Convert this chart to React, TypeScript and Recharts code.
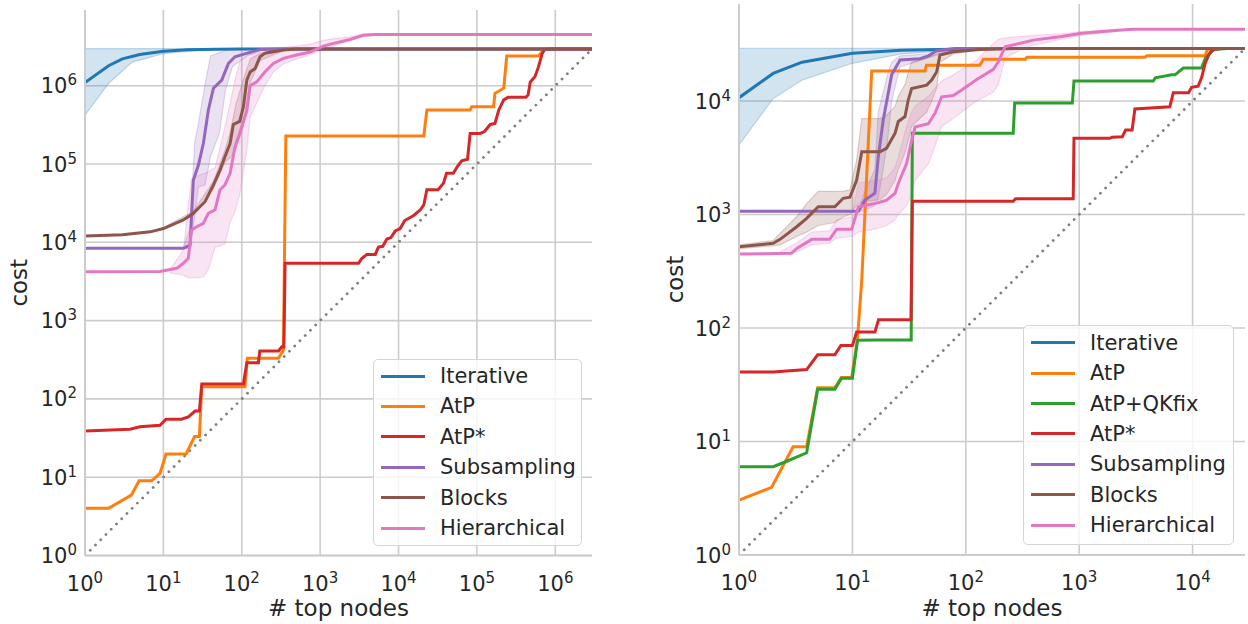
import React from 'react';
import { ComposedChart, Line, Area, XAxis, YAxis, CartesianGrid } from 'recharts';

type Pt = [number, number];
type Band = [number, number, number];

// ---- left panel ----
const L_ITERATIVE: Pt[] = [[1, 1.1e6], [2, 1.8e6], [3, 2.2e6], [5, 2.5e6], [10, 2.75e6], [20, 2.87e6], [50, 2.93e6], [100, 2.94e6], [2.94e6, 2.94e6]];
const L_ITERATIVE_BAND: Band[] = [[1, 4.2e5, 2.98e6], [2, 1.07e6, 2.98e6], [4, 2.0e6, 2.98e6], [10, 2.57e6, 2.98e6], [30, 2.85e6, 2.97e6], [100, 2.93e6, 2.95e6]];
const L_ATP: Pt[] = [[1, 4], [2, 4], [3.9, 5.9], [4.9, 9], [7.1, 9], [9.06, 11.2], [10.8, 19.8], [19.5, 19.8], [25, 33], [28.8, 33], [30.9, 143], [110, 143], [118, 330], [294, 330], [340, 420], [365, 2.28e5], [2.1e4, 2.28e5], [2.3e4, 4.9e5], [8.2e4, 4.9e5], [8.6e4, 5.4e5], [1.63e5, 5.4e5], [1.7e5, 8e5], [2.2e5, 9.3e5], [2.4e5, 2.4e6], [6.1e5, 2.4e6], [7.1e5, 2.86e6], [8e5, 2.94e6], [2.94e6, 2.94e6]];
const L_ATP_STAR: Pt[] = [[1, 39], [3.76, 41], [5, 44], [9.06, 46], [10.8, 55], [17, 55], [20.8, 59], [25.4, 70], [28.8, 70], [30.9, 155], [105, 155], [116, 290], [163, 290], [170, 410], [294, 410], [324, 464], [345, 464], [357, 5.4e3], [3090, 5.4e3], [3390, 6.2e3], [3950, 7e3], [5050, 7e3], [5540, 8.7e3], [6300, 8.9e3], [7100, 1.1e4], [8000, 1.15e4], [9100, 1.4e4], [1.05e4, 1.5e4], [1.2e4, 1.9e4], [1.56e4, 2.2e4], [1.9e4, 2.6e4], [2.1e4, 3e4], [2.3e4, 4.7e4], [3.2e4, 4.7e4], [3.75e4, 5.7e4], [4.1e4, 7.6e4], [5e4, 7.6e4], [5.6e4, 9.2e4], [6.4e4, 1.1e5], [7.6e4, 1.15e5], [8.2e4, 2.46e5], [1.1e5, 2.46e5], [1.25e5, 2.6e5], [1.48e5, 3.2e5], [1.7e5, 3.3e5], [1.9e5, 4.9e5], [2.2e5, 6.6e5], [2.5e5, 7.1e5], [4.2e5, 7.1e5], [4.5e5, 7.6e5], [4.8e5, 1.12e6], [5.5e5, 1.3e6], [6.1e5, 1.74e6], [6.8e5, 2.57e6], [7.3e5, 2.9e6], [8e5, 2.94e6], [2.94e6, 2.94e6]];
const L_SUBSAMPLING: Pt[] = [[1, 8.4e3], [18, 8.4e3], [21.9, 9.2e3], [24.1, 6.2e4], [28, 9.7e4], [32.4, 1.84e5], [37.5, 4.9e5], [43.5, 9.3e5], [55.6, 1.18e6], [67.6, 1.93e6], [82, 2.34e6], [115, 2.59e6], [171, 2.9e6], [300, 2.94e6], [2.94e6, 2.94e6]];
const L_SUBSAMPLING_BAND: Band[] = [[18, 8.3e3, 8.6e3], [21.9, 8.4e3, 1.5e4], [25, 2.1e4, 1.84e5], [28, 5.1e4, 3.3e5], [34, 5.4e4, 1.05e6], [40, 1.25e5, 2.4e6], [52, 2.5e5, 2.65e6], [62, 8.8e5, 2.8e6], [76, 1.74e6, 2.9e6], [115, 2.4e6, 2.94e6], [200, 2.88e6, 2.95e6]];
const L_BLOCKS: Pt[] = [[1, 1.2e4], [3, 1.25e4], [6.8, 1.36e4], [10, 1.5e4], [18, 1.93e4], [24.1, 2.35e4], [34, 3.3e4], [43.5, 5.4e4], [52.6, 8.3e4], [61, 1.24e5], [71, 1.83e5], [78, 3.2e5], [94, 3.5e5], [105, 5.4e5], [116, 1.18e6], [128, 1.5e6], [148, 1.66e6], [171, 2.34e6], [197, 2.6e6], [340, 2.85e6], [500, 2.94e6], [2.94e6, 2.94e6]];
const L_BLOCKS_BAND: Band[] = [[10, 1.45e4, 1.55e4], [24.1, 2.2e4, 2.5e4], [43.5, 4.8e4, 6e4], [61, 1.05e5, 1.5e5], [71, 1.2e5, 2.5e5], [85, 1.6e5, 6e5], [105, 3e5, 1.2e6], [128, 1.1e6, 2.2e6], [171, 2.1e6, 2.6e6], [340, 2.8e6, 2.9e6]];
const L_HIERARCHICAL: Pt[] = [[1, 4.2e3], [9, 4.25e3], [14.8, 4.65e3], [18, 5.4e3], [20.8, 6.25e3], [22.9, 1.44e4], [26.6, 1.58e4], [32.4, 1.75e4], [37.5, 2.35e4], [45.7, 2.6e4], [52.6, 4.65e4], [61, 5.4e4], [71, 7.6e4], [82, 1.66e5], [94, 2.46e5], [116, 4.8e5], [128, 1e6], [155, 1.12e6], [197, 1.5e6], [253, 1.93e6], [340, 2.24e6], [500, 2.47e6], [750, 2.7e6], [1100, 3.2e6], [1480, 3.47e6], [2400, 3.9e6], [3560, 4.4e6], [5000, 4.5e6], [2.94e6, 4.5e6]];
const L_HIERARCHICAL_BAND: Band[] = [[12, 4.1e3, 4.4e3], [18, 3.8e3, 8e3], [20.8, 3.5e3, 3e4], [22.9, 3.5e3, 6.5e4], [26.6, 3.5e3, 7e4], [32.4, 3.6e3, 7.5e4], [37.5, 4.5e3, 8e4], [45.7, 8.7e3, 9e4], [52.6, 9e3, 1.6e5], [61, 9.5e3, 3e5], [71, 1.8e4, 6e5], [82, 2.5e4, 1.2e6], [94, 4e4, 2e6], [116, 1.5e5, 2.4e6], [128, 4e5, 2.5e6], [155, 6e5, 2.6e6], [197, 1e6, 2.7e6], [253, 1.5e6, 2.8e6], [340, 1.9e6, 3.1e6], [500, 2.2e6, 3.2e6], [750, 2.5e6, 3.4e6], [1100, 2.9e6, 3.8e6], [1480, 3.2e6, 4e6], [2400, 3.8e6, 4.2e6], [3560, 4.3e6, 4.6e6], [5000, 4.4e6, 4.6e6]];
const L_DIAGONAL: Pt[] = [[1, 1], [2.94e6, 2.94e6]];

// ---- right panel ----
const R_ITERATIVE: Pt[] = [[1, 1.07e4], [2, 1.75e4], [3.6, 2.2e4], [10, 2.63e4], [27, 2.8e4], [100, 2.87e4], [300, 2.9e4], [2.9e4, 2.9e4]];
const R_ITERATIVE_BAND: Band[] = [[1, 4.1e3, 2.91e4], [2, 1.05e4, 2.91e4], [3.6, 1.53e4, 2.91e4], [10, 2.15e4, 2.91e4], [27, 2.6e4, 2.91e4], [100, 2.85e4, 2.9e4]];
const R_ATP: Pt[] = [[1, 3.05], [1.94, 3.95], [3.0, 9], [3.95, 9], [4.94, 29.8], [7, 29.8], [8, 36.7], [9.86, 36.7], [11.1, 81], [12.1, 265], [14.8, 1.84e4], [43.7, 1.84e4], [45, 2.07e4], [133, 2.07e4], [143, 2.33e4], [334, 2.33e4], [347, 2.43e4], [3800, 2.43e4], [3950, 2.5e4], [1.29e4, 2.5e4], [1.35e4, 2.85e4], [1.5e4, 2.9e4], [2.9e4, 2.9e4]];
const R_ATP_QKFIX: Pt[] = [[1, 6], [2, 6], [2.55, 6.6], [3.95, 7.95], [4.94, 28.8], [7, 28.8], [8, 36], [10, 36], [11.1, 78], [16, 78.5], [33, 78.5], [33.8, 5.2e3], [262, 5.2e3], [270, 9.6e3], [870, 9.6e3], [900, 1.5e4], [4500, 1.5e4], [4700, 1.6e4], [6540, 1.7e4], [7000, 1.7e4], [8280, 1.95e4], [1.2e4, 1.95e4], [1.3e4, 2.4e4], [1.55e4, 2.85e4], [2e4, 2.9e4], [2.9e4, 2.9e4]];
const R_ATP_STAR: Pt[] = [[1, 41], [2, 41], [3.95, 43], [4.94, 58], [7, 58], [7.9, 70], [10, 70], [10.9, 92], [15.8, 92], [17, 118], [32.9, 118], [33.8, 1.31e3], [262, 1.31e3], [275, 1.38e3], [886, 1.38e3], [900, 4.7e3], [1870, 4.7e3], [1950, 4.8e3], [2400, 4.85e3], [2570, 5.55e3], [2930, 5.55e3], [3100, 8.5e3], [6300, 8.9e3], [6760, 1.18e4], [9200, 1.18e4], [9800, 1.32e4], [1.12e4, 1.35e4], [1.2e4, 1.6e4], [1.29e4, 2.14e4], [1.4e4, 2.6e4], [1.5e4, 2.85e4], [1.8e4, 2.9e4], [2.9e4, 2.9e4]];
const R_SUBSAMPLING: Pt[] = [[1, 1.07e3], [11.3, 1.07e3], [12.9, 1.34e3], [15.8, 1.54e3], [16.9, 3.2e3], [18.7, 6.8e3], [20.7, 1.17e4], [22.2, 1.7e4], [26.3, 2.3e4], [39.4, 2.36e4], [46.8, 2.5e4], [55.4, 2.77e4], [80, 2.9e4], [2.9e4, 2.9e4]];
const R_SUBSAMPLING_BAND: Band[] = [[11.3, 1.05e3, 1.1e3], [12.9, 1.1e3, 1.6e3], [15.8, 1.2e3, 2.5e3], [16.9, 1.4e3, 8e3], [18.7, 2.5e3, 1.2e4], [20.7, 5e3, 1.8e4], [22.2, 1e4, 2.2e4], [26.3, 2e4, 2.5e4], [46.8, 2.4e4, 2.6e4], [80, 2.88e4, 2.92e4]];
const R_BLOCKS: Pt[] = [[1, 520], [2, 557], [2.3, 604], [3.23, 781], [3.95, 925], [5, 1.17e3], [7, 1.17e3], [8.3, 1.39e3], [9.5, 1.42e3], [10.9, 2e3], [12.1, 3.57e3], [17.5, 3.57e3], [20, 3.83e3], [23.8, 5.2e3], [25.4, 6.6e3], [29.1, 7.3e3], [31.1, 1.02e4], [33.3, 1.29e4], [45.2, 1.38e4], [50, 1.53e4], [55.4, 1.81e4], [59.2, 2.54e4], [77.6, 2.72e4], [133, 2.85e4], [260, 2.9e4], [2.9e4, 2.9e4]];
const R_BLOCKS_BAND: Band[] = [[1, 500, 540], [2, 530, 590], [2.3, 540, 680], [3.23, 640, 960], [3.95, 700, 1250], [5, 800, 1600], [7, 850, 1600], [8.3, 950, 1600], [9.5, 1000, 1650], [10.9, 1200, 3e3], [12.1, 1300, 7e3], [17.5, 1350, 7e3], [20, 1500, 7.5e3], [23.8, 2e3, 9e3], [25.4, 2.5e3, 1.1e4], [29.1, 3.5e3, 1.4e4], [31.1, 4.5e3, 1.8e4], [33.3, 6e3, 2.2e4], [45.2, 8e3, 2.4e4], [50, 1e4, 2.5e4], [55.4, 1.3e4, 2.6e4], [59.2, 2.2e4, 2.75e4], [77.6, 2.6e4, 2.8e4], [133, 2.83e4, 2.88e4]];
const R_HIERARCHICAL: Pt[] = [[1, 449], [2.9, 455], [3.23, 503], [4.38, 604], [6.3, 604], [7.26, 740], [9.86, 740], [11.3, 1.17e3], [16.4, 1.26e3], [20, 1.34e3], [23.8, 1.54e3], [25.4, 1.88e3], [30.1, 2.83e3], [33.3, 4.5e3], [35.7, 5.9e3], [46.8, 6.3e3], [53.5, 7.8e3], [61.3, 1.09e4], [77.6, 1.12e4], [92, 1.25e4], [125, 1.55e4], [175, 1.9e4], [194, 2.22e4], [222, 3e4], [300, 3.22e4], [394, 3.44e4], [700, 3.7e4], [1050, 3.95e4], [2210, 4.2e4], [3000, 4.3e4], [2.9e4, 4.3e4]];
const R_HIERARCHICAL_BAND: Band[] = [[2.3, 440, 470], [3.23, 470, 560], [4.38, 540, 700], [6.3, 560, 720], [7.26, 620, 900], [9.86, 640, 950], [11.3, 700, 1900], [16.4, 750, 2000], [20, 800, 2100], [23.8, 900, 2600], [25.4, 1000, 3200], [30.1, 1200, 6e3], [33.3, 1500, 8e3], [35.7, 2000, 9e3], [46.8, 2800, 1.1e4], [53.5, 4e3, 1.3e4], [61.3, 6e3, 1.5e4], [77.6, 7e3, 1.7e4], [92, 8e3, 1.9e4], [125, 1e4, 2.3e4], [175, 1.2e4, 3.2e4], [194, 1.4e4, 3.5e4], [222, 2.4e4, 3.6e4], [300, 2.8e4, 3.7e4], [394, 3.1e4, 3.8e4], [700, 3.5e4, 3.9e4], [1050, 3.8e4, 4.1e4], [2210, 4.1e4, 4.3e4]];
const R_DIAGONAL: Pt[] = [[1, 1], [2.9e4, 2.9e4]];

const L_TICKS = [1, 10, 100, 1e3, 1e4, 1e5, 1e6];
const R_TICKS = [1, 10, 100, 1e3, 1e4];

const C = {
  blue: '#1f77b4',
  orange: '#ff7f0e',
  green: '#2ca02c',
  red: '#d62728',
  purple: '#9467bd',
  brown: '#8c564b',
  pink: '#e377c2',
};
const TEXT = '#262626';
const GRID = '#cccccc';
const FONT = '"DejaVu Sans", sans-serif';

const toLine = (pts: Pt[]) => pts.map(([x, y]) => ({ x, y }));
const toBand = (pts: Band[]) => pts.map(([x, lo, hi]) => ({ x, r: [lo, hi] }));

interface Series {
  name: string;
  color: string;
  line: Pt[];
  band?: Band[];
}

const leftSeries: Series[] = [
  { name: 'Iterative', color: C.blue, line: L_ITERATIVE, band: L_ITERATIVE_BAND },
  { name: 'AtP', color: C.orange, line: L_ATP },
  { name: 'AtP*', color: C.red, line: L_ATP_STAR },
  { name: 'Subsampling', color: C.purple, line: L_SUBSAMPLING, band: L_SUBSAMPLING_BAND },
  { name: 'Blocks', color: C.brown, line: L_BLOCKS, band: L_BLOCKS_BAND },
  { name: 'Hierarchical', color: C.pink, line: L_HIERARCHICAL, band: L_HIERARCHICAL_BAND },
];

const rightSeries: Series[] = [
  { name: 'Iterative', color: C.blue, line: R_ITERATIVE, band: R_ITERATIVE_BAND },
  { name: 'AtP', color: C.orange, line: R_ATP },
  { name: 'AtP+QKfix', color: C.green, line: R_ATP_QKFIX },
  { name: 'AtP*', color: C.red, line: R_ATP_STAR },
  { name: 'Subsampling', color: C.purple, line: R_SUBSAMPLING, band: R_SUBSAMPLING_BAND },
  { name: 'Blocks', color: C.brown, line: R_BLOCKS, band: R_BLOCKS_BAND },
  { name: 'Hierarchical', color: C.pink, line: R_HIERARCHICAL, band: R_HIERARCHICAL_BAND },
];

const PowTickX = ({ x, y, payload }: any) => {
  const e = Math.round(Math.log10(payload.value));
  return (
    <text x={x} y={y + 35} textAnchor="middle" fill={TEXT} fontSize={21} fontFamily={FONT}>
      10<tspan dy={-8} fontSize={15}>{e}</tspan>
    </text>
  );
};

const PowTickY = ({ x, y, payload }: any) => {
  const e = Math.round(Math.log10(payload.value));
  return (
    <text x={x - 8} y={y + 7.5} textAnchor="end" fill={TEXT} fontSize={21} fontFamily={FONT}>
      10<tspan dy={-8} fontSize={15}>{e}</tspan>
    </text>
  );
};

interface PanelProps {
  series: Series[];
  diagonal: Pt[];
  xMax: number;
  yMax: number;
  ticksX: number[];
  ticksY: number[];
  width: number;
  margin: { top: number; right: number; bottom: number; left: number };
  labelX: number;
}

function Panel({ series, diagonal, xMax, yMax, ticksX, ticksY, width, margin, labelX }: PanelProps) {
  return (
    <ComposedChart width={width} height={624} margin={margin}>
      {/* syncWithTicks keeps the grid to the decade ticks only (no frame at the edges) */}
      <CartesianGrid stroke={GRID} strokeWidth={1.6} syncWithTicks />
      <XAxis
        dataKey="x"
        type="number"
        scale="log"
        domain={[1, xMax]}
        allowDataOverflow
        ticks={ticksX}
        tick={<PowTickX />}
        tickLine={false}
        tickSize={0}
        tickMargin={0}
        height={50}
        axisLine={{ stroke: GRID, strokeWidth: 2 }}
        label={{
          content: ({ viewBox }: any) => (
            <text x={viewBox.x + viewBox.width / 2} y={viewBox.y + 60.5} textAnchor="middle" fill={TEXT} fontSize={23} fontFamily={FONT}>
              # top nodes
            </text>
          ),
        }}
      />
      <YAxis
        type="number"
        scale="log"
        domain={[1, yMax]}
        allowDataOverflow
        ticks={ticksY}
        tick={<PowTickY />}
        tickLine={false}
        tickSize={0}
        tickMargin={0}
        width={60}
        axisLine={{ stroke: GRID, strokeWidth: 2 }}
        label={{
          content: ({ viewBox }: any) => {
            const cy = viewBox.y + viewBox.height / 2;
            return (
              <text x={labelX} y={cy} transform={`rotate(-90 ${labelX} ${cy})`} textAnchor="middle" fill={TEXT} fontSize={23} fontFamily={FONT}>
                cost
              </text>
            );
          },
        }}
      />
      <Line
        data={toLine(diagonal)}
        dataKey="y"
        type="linear"
        stroke="#7f7f7f"
        strokeWidth={2.8}
        strokeDasharray="0.01 7.4"
        strokeLinecap="round"
        dot={false}
        activeDot={false}
        isAnimationActive={false}
      />
      {series.map((s) =>
        s.band ? (
          <Area
            key={`band-${s.name}`}
            data={toBand(s.band)}
            dataKey="r"
            type="linear"
            fill={s.color}
            fillOpacity={0.2}
            stroke={s.color}
            strokeOpacity={0.25}
            strokeWidth={1.2}
            dot={false}
            activeDot={false}
            isAnimationActive={false}
          />
        ) : null
      )}
      {series.map((s) => (
        <Line
          key={s.name}
          data={toLine(s.line)}
          dataKey="y"
          name={s.name}
          type="linear"
          stroke={s.color}
          strokeWidth={3}
          dot={false}
          activeDot={false}
          isAnimationActive={false}
        />
      ))}
    </ComposedChart>
  );
}

function LegendBox({ series, left, top, width, height, firstRow }: { series: Series[]; left: number; top: number; width: number; height: number; firstRow: number }) {
  return (
    <div
      style={{
        position: 'absolute',
        left,
        top,
        width,
        height,
        boxSizing: 'border-box',
        border: '1px solid #d5d5d5',
        borderRadius: 5,
        background: 'rgba(255,255,255,0.8)',
        fontFamily: FONT,
        fontSize: 21,
        color: TEXT,
      }}
    >
      {series.map((s, i) => (
        <div key={s.name} style={{ position: 'absolute', left: 0, top: firstRow - top - 15 + i * 30.4, height: 30, width: '100%' }}>
          <div style={{ position: 'absolute', left: 7, top: 13.5, width: 44, height: 3, background: s.color }} />
          <div style={{ position: 'absolute', left: 66, top: 0, lineHeight: '30px', whiteSpace: 'nowrap' }}>{s.name}</div>
        </div>
      ))}
    </div>
  );
}

export default function App() {
  return (
    <div style={{ position: 'absolute', left: 0, top: 0, width: 1248, height: 624, background: '#fff', overflow: 'hidden' }}>
      <div style={{ position: 'absolute', left: 0, top: 0 }}>
        <Panel
          series={leftSeries}
          diagonal={L_DIAGONAL}
          xMax={2.94e6}
          yMax={9.27e6}
          ticksX={L_TICKS}
          ticksY={L_TICKS}
          width={620}
          margin={{ top: 10, right: 28, bottom: 18.5, left: 25 }}
          labelX={27}
        />
      </div>
      <div style={{ position: 'absolute', left: 640, top: 0 }}>
        <Panel
          series={rightSeries}
          diagonal={R_DIAGONAL}
          xMax={2.9e4}
          yMax={7.16e4}
          ticksX={R_TICKS}
          ticksY={R_TICKS}
          width={608}
          margin={{ top: 4, right: 3, bottom: 19, left: 39 }}
          labelX={43}
        />
      </div>
      <LegendBox series={leftSeries} left={373} top={359} width={209} height={187} firstRow={375} />
      <LegendBox series={rightSeries} left={1023} top={325} width={211} height={220} firstRow={341.7} />
    </div>
  );
}
